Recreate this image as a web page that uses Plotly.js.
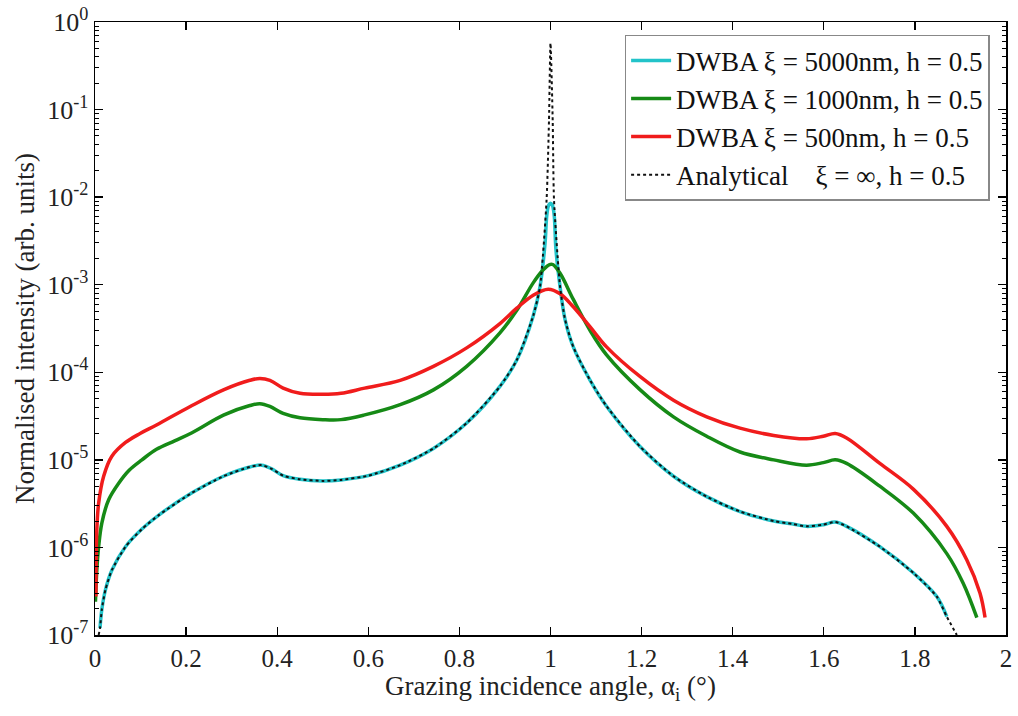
<!DOCTYPE html>
<html>
<head>
<meta charset="utf-8">
<script src="https://cdn.plot.ly/plotly-3.0.1.min.js"></script>
<style>html,body{margin:0;padding:0;background:#fff;}#chart{width:1018px;height:716px;}</style>
</head>
<body>
<div id="chart"></div>
<script>
// Grazing incidence angle (deg) and normalised intensity for each series
const xCyan = [0.011,0.015,0.023,0.037,0.067,0.103,0.14,0.213,0.282,0.34,0.366,0.388,0.413,0.45,0.50,0.54,0.60,0.67,0.743,0.816,0.889,0.926,0.962,0.977,0.988,0.992,0.996,1.0,1.004,1.008,1.012,1.021,1.032,1.05,1.087,1.123,1.197,1.27,1.343,1.416,1.49,1.53,1.562,1.599,1.625,1.65,1.723,1.797,1.848,1.87];
const yCyan = [1.2e-7,1.95e-7,3.3e-7,5.5e-7,1.02e-6,1.62e-6,2.34e-6,4.2e-6,6.5e-6,8.3e-6,8.7e-6,7.9e-6,6.6e-6,6.0e-6,5.75e-6,5.9e-6,6.6e-6,8.7e-6,1.35e-5,2.63e-5,6.9e-5,1.38e-4,4.4e-4,9.5e-4,2.95e-3,6.3e-3,8.1e-3,8.5e-3,8.1e-3,6.3e-3,2.5e-3,9.5e-4,4.0e-4,1.95e-4,8.1e-5,4.1e-5,1.41e-5,6.5e-6,3.8e-6,2.57e-6,2.0e-6,1.86e-6,1.74e-6,1.82e-6,1.95e-6,1.74e-6,1.02e-6,5.1e-7,2.75e-7,1.62e-7];

const xGreen = [0.001,0.004,0.008,0.015,0.03,0.052,0.075,0.103,0.135,0.176,0.213,0.282,0.34,0.362,0.384,0.413,0.45,0.50,0.54,0.59,0.67,0.743,0.816,0.889,0.926,0.962,0.984,0.998,1.005,1.021,1.05,1.087,1.123,1.197,1.27,1.343,1.416,1.49,1.562,1.599,1.625,1.65,1.723,1.797,1.87,1.906,1.936];
const yGreen = [2.4e-7,5.5e-7,1.02e-6,1.9e-6,3.5e-6,5.4e-6,7.6e-6,1.0e-5,1.32e-5,1.66e-5,2.04e-5,3.24e-5,4.17e-5,4.37e-5,4.07e-5,3.39e-5,3.02e-5,2.88e-5,2.88e-5,3.24e-5,4.27e-5,6.3e-5,1.17e-4,2.82e-4,5.1e-4,1.05e-3,1.48e-3,1.7e-3,1.7e-3,1.35e-3,6.8e-4,3.0e-4,1.58e-4,6.3e-5,3.1e-5,1.86e-5,1.23e-5,1.0e-5,8.7e-6,9.3e-6,1.0e-5,9.1e-6,5.0e-6,2.45e-6,8.5e-7,3.9e-7,1.58e-7];

const xRed = [0.002,0.004,0.008,0.019,0.037,0.067,0.099,0.135,0.209,0.282,0.34,0.362,0.384,0.413,0.45,0.50,0.54,0.592,0.67,0.743,0.816,0.889,0.926,0.962,0.995,1.021,1.05,1.087,1.123,1.197,1.27,1.343,1.416,1.49,1.562,1.599,1.625,1.65,1.723,1.797,1.87,1.914,1.943,1.954];
const yRed = [2.75e-7,1.58e-6,3.2e-6,6.5e-6,1.1e-5,1.58e-5,2.0e-5,2.5e-5,4.07e-5,6.3e-5,8.1e-5,8.5e-5,8.1e-5,6.6e-5,5.75e-5,5.6e-5,5.75e-5,6.6e-5,8.1e-5,1.17e-4,1.9e-4,3.6e-4,5.4e-4,7.6e-4,8.9e-4,7.9e-4,5.6e-4,3.3e-4,1.95e-4,8.9e-5,4.8e-5,3.1e-5,2.3e-5,1.9e-5,1.74e-5,1.86e-5,2.0e-5,1.78e-5,9.1e-6,4.6e-6,1.74e-6,7.2e-7,3.0e-7,1.58e-7];

const xBlack = [0.008,0.011,0.015,0.023,0.037,0.067,0.103,0.14,0.213,0.282,0.34,0.366,0.388,0.413,0.45,0.50,0.54,0.60,0.67,0.743,0.816,0.889,0.926,0.962,0.977,0.9914,0.9967,1.0,1.0048,1.0077,1.021,1.032,1.05,1.087,1.123,1.197,1.27,1.343,1.416,1.49,1.53,1.562,1.599,1.625,1.65,1.723,1.797,1.848,1.87,1.892];
const yBlack = [1.0e-7,1.2e-7,1.95e-7,3.3e-7,5.5e-7,1.02e-6,1.62e-6,2.34e-6,4.2e-6,6.5e-6,8.3e-6,8.7e-6,7.9e-6,6.6e-6,6.0e-6,5.75e-6,5.9e-6,6.6e-6,8.7e-6,1.35e-5,2.63e-5,6.9e-5,1.38e-4,4.4e-4,9.5e-4,9.3e-3,7.6e-2,0.575,7.6e-2,9.3e-3,9.5e-4,4.0e-4,1.95e-4,8.1e-5,4.1e-5,1.41e-5,6.5e-6,3.8e-6,2.57e-6,2.0e-6,1.86e-6,1.74e-6,1.82e-6,1.95e-6,1.74e-6,1.02e-6,5.1e-7,2.75e-7,1.62e-7,1.0e-7];

const seriesNames = [
  'DWBA \u03be = 5000nm, h = 0.5',
  'DWBA \u03be = 1000nm, h = 0.5',
  'DWBA \u03be = 500nm, h = 0.5',
  'Analytical\u00a0\u00a0\u00a0 \u03be = \u221e, h = 0.5'
];
const xTickVals = [0,0.2,0.4,0.6,0.8,1,1.2,1.4,1.6,1.8,2];
const xTickText = ['0','0.2','0.4','0.6','0.8','1','1.2','1.4','1.6','1.8','2'];
const yTickVals = [1e-7,1e-6,1e-5,1e-4,1e-3,1e-2,1e-1,1];
const yTickText = ['10<sup>-7</sup>','10<sup>-6</sup>','10<sup>-5</sup>','10<sup>-4</sup>','10<sup>-3</sup>','10<sup>-2</sup>','10<sup>-1</sup>','10<sup>0</sup>'];

const font = '"Liberation Serif", "Times New Roman", serif';

const traces = [
  {x:xCyan, y:yCyan, name:seriesNames[0], mode:'lines', line:{color:'#22c3c9', width:3.5, shape:'spline', smoothing:1}},
  {x:xGreen, y:yGreen, name:seriesNames[1], mode:'lines', line:{color:'#168a16', width:3.5, shape:'spline', smoothing:1}},
  {x:xRed, y:yRed, name:seriesNames[2], mode:'lines', line:{color:'#f01c1c', width:3.5, shape:'spline', smoothing:1}},
  {x:xBlack, y:yBlack, name:seriesNames[3], mode:'lines', line:{color:'#111', width:2, dash:'dot', shape:'spline', smoothing:0.6}}
];

const layout = {
  width:1018, height:716,
  margin:{l:95, r:12, t:22, b:81},
  paper_bgcolor:'#fff', plot_bgcolor:'#fff',
  font:{family:font, color:'#000', size:22},
  showlegend:true,
  legend:{x:0.982, xanchor:'right', y:0.979, yanchor:'top', bgcolor:'#fff',
    bordercolor:'#888', borderwidth:1.5, font:{family:font, size:27, color:'#111'},
    tracegroupgap:0, itemwidth:40},
  xaxis:{range:[0,2], tickvals:xTickVals, ticktext:xTickText, ticks:'inside', ticklen:8,
    tickwidth:1.3, tickcolor:'#000', showline:true, linecolor:'#000', linewidth:1.5,
    mirror:'ticks', showgrid:false, zeroline:false, tickfont:{size:25, color:'#222'},
    title:{text:'Grazing incidence angle, \u03b1<sub>i</sub> (\u00b0)', font:{size:27, color:'#222'}, standoff:2}},
  yaxis:{type:'log', range:[-7,0], tickvals:yTickVals, ticktext:yTickText, ticks:'inside', ticklen:8,
    tickwidth:1.3, tickcolor:'#000', showline:true, linecolor:'#000', linewidth:1.5,
    mirror:'ticks', showgrid:false, zeroline:false, tickfont:{size:26, color:'#222'},
    minor:{ticks:'inside', ticklen:4, tickcolor:'#000', tickwidth:1, dtick:'D1', showgrid:false},
    title:{text:'Normalised intensity (arb. units)', font:{size:27, color:'#222'}, standoff:4}}
};

Plotly.newPlot('chart', traces, layout, {displayModeBar:false, staticPlot:true});
</script>
</body>
</html>
